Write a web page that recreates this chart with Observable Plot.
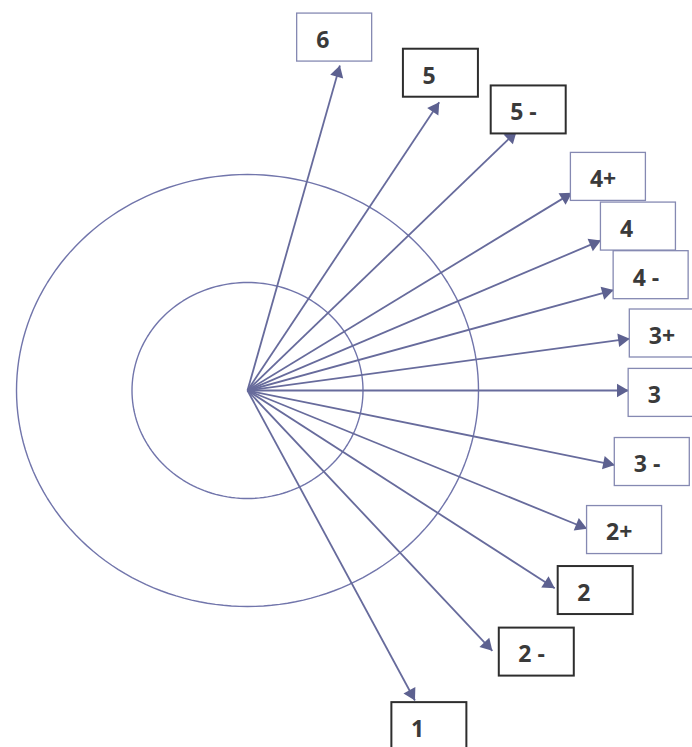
<!DOCTYPE html>
<html>
<head>
<meta charset="utf-8">
<script src="https://cdn.jsdelivr.net/npm/d3@7"></script>
<script src="https://cdn.jsdelivr.net/npm/@observablehq/plot@0.6"></script>
<style>
  html, body { margin: 0; padding: 0; background: #fff; }
  #chart svg { display: block; }
</style>
</head>
<body>
<div id="chart"></div>
<script>
// Diagram data (units: inner ring radius = 1)
const labels = ["6", "5", "5 -", "4+", "4", "4 -", "3+", "3", "3 -", "2+", "2", "2 -", "1"];
const tipX = [0.80, 1.66, 2.33, 2.81, 3.06, 3.17, 3.31, 3.30, 3.18, 2.94, 2.66, 2.12, 1.45];
const tipY = [3.01, 2.67, 2.40, 1.83, 1.39, 0.93, 0.48, 0.00, -0.69, -1.28, -1.83, -2.41, -2.87];
const boxX = [0.43, 1.35, 2.11, 2.80, 3.06, 3.17, 3.31, 3.30, 3.18, 2.94, 2.69, 2.18, 1.25];
const boxY = [3.49, 3.16, 2.82, 2.20, 1.74, 1.29, 0.75, 0.20, -0.44, -1.07, -1.63, -2.20, -2.89];
const emphasized = [false, true, true, false, false, false, false, false, false, false, true, true, true];
const rings = [1, 2];

const W = 692, H = 747;
const cx = 247, cy = 390;      // pixel position of the centre
const kx = 115.5, ky = 108;    // pixels per unit (scan is slightly stretched)
const boxW = 75 / kx, boxH = 48 / ky;

const items = labels.map((label, i) => ({
  label, tx: tipX[i], ty: tipY[i], bx: boxX[i], by: boxY[i], dark: emphasized[i]
}));

// ring outlines sampled around the circle
const ringPts = rings.flatMap(r => d3.range(0, 360, 2).map(a => ({
  ring: r, x: r * Math.cos(a * Math.PI / 180), y: r * Math.sin(a * Math.PI / 180)
})));

// arrowhead placement (triangle centroid sits slightly back from the tip)
const headR = 5;
const headOffset = 2 * Math.sqrt(Math.PI * headR * headR / (3 * Math.sqrt(3)));
const heads = items.map(d => {
  const px = d.tx * kx, py = d.ty * ky;
  const len = Math.hypot(px, py);
  const f = 1 - headOffset / len;
  return { x: d.tx * f, y: d.ty * f, rot: Math.atan2(px, py) * 180 / Math.PI };
});

const lineColor = "#676b9c";

const chart = Plot.plot({
  width: W,
  height: H,
  margin: 0,
  x: { domain: [-cx / kx, (W - cx) / kx], axis: null },
  y: { domain: [(cy - H) / ky, cy / ky], axis: null },
  marks: [
    Plot.line(ringPts, { x: "x", y: "y", z: "ring", curve: "linear-closed", stroke: "#7175ab", strokeWidth: 1.4 }),
    Plot.link(items, { x1: () => 0, y1: () => 0, x2: "tx", y2: "ty", stroke: lineColor, strokeWidth: 1.8 }),
    Plot.dot(heads, { x: "x", y: "y", symbol: "triangle", r: headR, rotate: "rot", fill: "#5d6190", stroke: "none" }),
    Plot.rect(items.filter(d => !d.dark), {
      x1: "bx", x2: d => d.bx + boxW, y1: "by", y2: d => d.by - boxH,
      fill: "white", stroke: "#8589b2", strokeWidth: 1.3
    }),
    Plot.rect(items.filter(d => d.dark), {
      x1: "bx", x2: d => d.bx + boxW, y1: "by", y2: d => d.by - boxH,
      fill: "white", stroke: "#2e2e2e", strokeWidth: 2
    }),
    Plot.text(items, {
      x: "bx", y: d => d.by - boxH / 2, text: "label",
      textAnchor: "start", dx: 19, dy: 3,
      fontSize: 23, fontWeight: "bold", fill: "#3a3a3a",
      fontFamily: "Open Sans"
    })
  ]
});

document.getElementById("chart").appendChild(chart);
</script>
</body>
</html>
